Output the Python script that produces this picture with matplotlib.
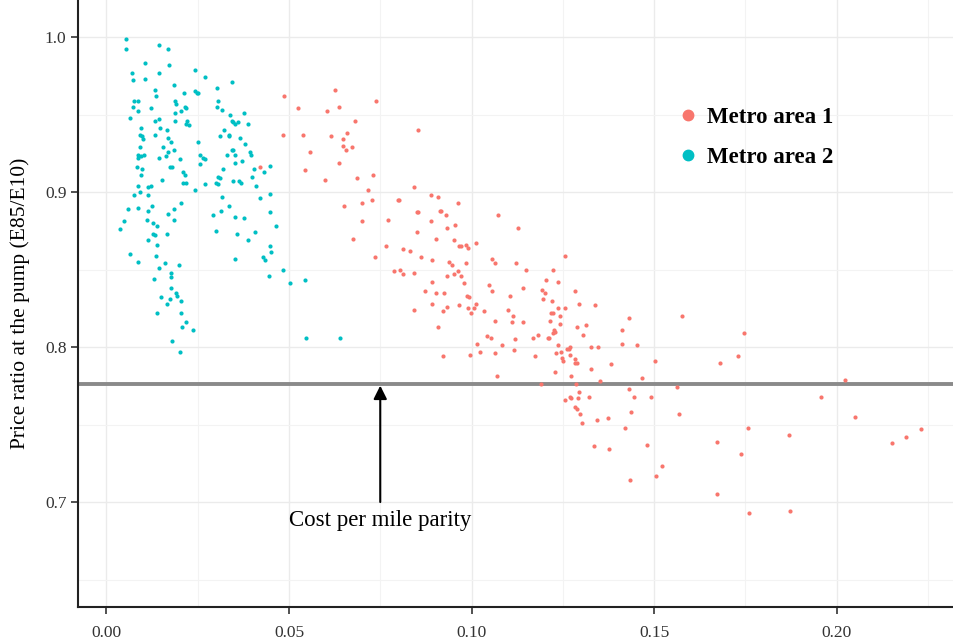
import matplotlib.pyplot as plt
from matplotlib.lines import Line2D
from matplotlib.ticker import MultipleLocator

# Metro area 2 (cyan cluster, low x)
area2_x = [0.0054, 0.0054, 0.0143, 0.0168, 0.0106, 0.0172, 0.0143, 0.0070, 0.0074, 0.0106,
           0.0242, 0.0269, 0.0343, 0.0185, 0.0134, 0.0136, 0.0212, 0.0243, 0.0248, 0.0252,
           0.0303, 0.0077, 0.0086, 0.0187, 0.0191, 0.0216, 0.0219, 0.0072, 0.0088, 0.0123,
           0.0205, 0.0187, 0.0307, 0.0302, 0.0316, 0.0376, 0.0339, 0.0066, 0.0132, 0.0145,
           0.0187, 0.0220, 0.0225, 0.0219, 0.0344, 0.0348, 0.0351, 0.0360, 0.0388, 0.0094,
           0.0147, 0.0166, 0.0091, 0.0097, 0.0100, 0.0134, 0.0168, 0.0177, 0.0321, 0.0312,
           0.0335, 0.0337, 0.0365, 0.0252, 0.0380, 0.0092, 0.0156, 0.0184, 0.0344, 0.0348,
           0.0330, 0.0353, 0.0394, 0.0397, 0.0088, 0.0095, 0.0104, 0.0086, 0.0145, 0.0170,
           0.0163, 0.0202, 0.0257, 0.0264, 0.0269, 0.0353, 0.0371, 0.0257, 0.0085, 0.0097,
           0.0173, 0.0179, 0.0319, 0.0403, 0.0209, 0.0214, 0.0094, 0.0305, 0.0310, 0.0399,
           0.0152, 0.0433, 0.0447, 0.0088, 0.0091, 0.0113, 0.0121, 0.0209, 0.0218, 0.0271,
           0.0300, 0.0305, 0.0348, 0.0362, 0.0368, 0.0411, 0.0077, 0.0115, 0.0243, 0.0316,
           0.0422, 0.0447,
           0.0060, 0.0086, 0.0124, 0.0113, 0.0205, 0.0185, 0.0170, 0.0186, 0.0292, 0.0314,
           0.0336, 0.0352, 0.0377, 0.0447, 0.0047, 0.0111, 0.0129, 0.0139, 0.0037, 0.0465,
           0.0300, 0.0358, 0.0407, 0.0166, 0.0127, 0.0132, 0.0115, 0.0139, 0.0389, 0.0449,
           0.0452, 0.0065, 0.0136, 0.0351, 0.0428, 0.0435, 0.0086, 0.0161, 0.0199, 0.0144,
           0.0485, 0.0177, 0.0177, 0.0130, 0.0444, 0.0504, 0.0177, 0.0190, 0.0193, 0.0150,
           0.0173, 0.0204, 0.0166, 0.0138, 0.0205, 0.0219, 0.0207, 0.0236, 0.0179, 0.0203,
           0.0545, 0.0548, 0.0640]
area2_y = [0.999, 0.992, 0.995, 0.992, 0.983, 0.982, 0.977, 0.977, 0.972, 0.973,
           0.979, 0.974, 0.971, 0.969, 0.966, 0.962, 0.964, 0.965, 0.964, 0.964,
           0.967, 0.959, 0.959, 0.959, 0.957, 0.955, 0.954, 0.955, 0.952, 0.954,
           0.952, 0.951, 0.959, 0.955, 0.953, 0.951, 0.950, 0.948, 0.946, 0.947,
           0.946, 0.946, 0.943, 0.944, 0.946, 0.945, 0.944, 0.945, 0.944, 0.941,
           0.941, 0.940, 0.937, 0.936, 0.934, 0.937, 0.935, 0.932, 0.940, 0.936,
           0.937, 0.936, 0.935, 0.932, 0.931, 0.929, 0.929, 0.927, 0.927, 0.927,
           0.924, 0.924, 0.926, 0.924, 0.924, 0.923, 0.924, 0.922, 0.922, 0.926,
           0.923, 0.921, 0.924, 0.922, 0.921, 0.919, 0.920, 0.918, 0.916, 0.915,
           0.916, 0.916, 0.915, 0.915, 0.913, 0.911, 0.911, 0.910, 0.909, 0.910,
           0.908, 0.913, 0.917, 0.904, 0.900, 0.903, 0.904, 0.906, 0.906, 0.905,
           0.906, 0.905, 0.907, 0.907, 0.906, 0.904, 0.898, 0.898, 0.901, 0.897,
           0.896, 0.899,
           0.889, 0.890, 0.891, 0.888, 0.893, 0.889, 0.886, 0.882, 0.885, 0.888,
           0.891, 0.884, 0.883, 0.887, 0.881, 0.882, 0.880, 0.878, 0.876, 0.878,
           0.875, 0.873, 0.874, 0.873, 0.873, 0.872, 0.869, 0.866, 0.869, 0.865,
           0.861, 0.860, 0.859, 0.857, 0.858, 0.856, 0.855, 0.854, 0.853, 0.851,
           0.850, 0.848, 0.845, 0.844, 0.846, 0.841, 0.838, 0.835, 0.833, 0.832,
           0.831, 0.830, 0.828, 0.822, 0.822, 0.816, 0.813, 0.811, 0.804, 0.797,
           0.843, 0.806, 0.806]

# Metro area 1 (red cluster, spread to the right)
area1_x = [0.0420,
           0.0487, 0.0525, 0.0625, 0.0737, 0.0603, 0.0636, 0.0681, 0.0484, 0.0539, 0.0614,
           0.0658, 0.0648, 0.0647, 0.0657, 0.0672, 0.0557, 0.0854, 0.0636, 0.0543, 0.0598,
           0.0686, 0.0730, 0.0717, 0.0651, 0.0699, 0.0728, 0.0798, 0.0701, 0.0772, 0.0676,
           0.0767, 0.0736, 0.0787,
           0.0842, 0.0801, 0.0890, 0.0908, 0.0851, 0.0854, 0.0913, 0.0915, 0.0964, 0.0930,
           0.0888, 0.0955, 0.1072, 0.0932, 0.0850, 0.1128, 0.0904, 0.0952, 0.0966, 0.0970,
           0.0984, 0.0991, 0.1011, 0.0812, 0.0831, 0.0862, 0.0893, 0.0938, 0.0946, 0.0984,
           0.1056, 0.1065, 0.1121, 0.0804, 0.0812, 0.0842, 0.0934, 0.0952, 0.0964, 0.0971,
           0.1150, 0.0891, 0.0980, 0.1049, 0.1203, 0.0872, 0.0904, 0.0924, 0.0987, 0.0993,
           0.1055, 0.1142, 0.1194, 0.1200, 0.1106, 0.1196, 0.0893, 0.0966, 0.1013, 0.0991,
           0.1007, 0.0999, 0.0842, 0.0922, 0.0932, 0.1033, 0.1101, 0.1113, 0.1064, 0.1110,
           0.1141, 0.0909, 0.1043, 0.1053, 0.1167, 0.1182, 0.1016, 0.1083, 0.1120, 0.1210,
           0.0922, 0.0997, 0.1022, 0.1064, 0.1117, 0.1173, 0.1070, 0.1191,
           0.1257, 0.1224, 0.1237, 0.1282, 0.1219, 0.1237, 0.1256, 0.1293, 0.1339, 0.1217,
           0.1224, 0.1215, 0.1243, 0.1243, 0.1288, 0.1313, 0.1226, 0.1228, 0.1224, 0.1213,
           0.1304, 0.1432, 0.1577, 0.1411, 0.1746, 0.1237, 0.1261, 0.1266, 0.1270, 0.1326,
           0.1346, 0.1411, 0.1453, 0.1231, 0.1246, 0.1270, 0.1249, 0.1251, 0.1282, 0.1282,
           0.1289, 0.1327, 0.1382, 0.1503, 0.1681, 0.1729, 0.1228, 0.1272, 0.1353, 0.1467,
           0.1286, 0.1432, 0.1563, 0.2022, 0.1255, 0.1269, 0.1273, 0.1293, 0.1292, 0.1321,
           0.1444, 0.1490, 0.1958, 0.1283, 0.1288, 0.1298, 0.1437, 0.1567, 0.1302, 0.1343,
           0.1374, 0.1420, 0.1757, 0.1869, 0.1673, 0.1737, 0.1335, 0.1377, 0.1481, 0.1522,
           0.1434, 0.1504, 0.1673, 0.1761, 0.1871,
           0.2050, 0.2150, 0.2190, 0.2230]
area1_y = [0.916,
           0.962, 0.954, 0.966, 0.959, 0.952, 0.955, 0.946, 0.937, 0.937, 0.936,
           0.938, 0.934, 0.930, 0.927, 0.929, 0.926, 0.940, 0.919, 0.914, 0.908,
           0.909, 0.911, 0.901, 0.891, 0.893, 0.895, 0.895, 0.881, 0.882, 0.870,
           0.865, 0.858, 0.849,
           0.903, 0.895, 0.898, 0.897, 0.887, 0.887, 0.888, 0.888, 0.893, 0.885,
           0.881, 0.879, 0.885, 0.877, 0.874, 0.877, 0.870, 0.869, 0.865, 0.865,
           0.866, 0.864, 0.867, 0.863, 0.862, 0.858, 0.856, 0.855, 0.853, 0.854,
           0.857, 0.854, 0.854, 0.850, 0.847, 0.848, 0.846, 0.847, 0.849, 0.846,
           0.850, 0.842, 0.841, 0.840, 0.843, 0.836, 0.835, 0.835, 0.833, 0.832,
           0.836, 0.838, 0.837, 0.835, 0.833, 0.831, 0.828, 0.827, 0.828, 0.825,
           0.825, 0.822, 0.824, 0.823, 0.826, 0.823, 0.824, 0.820, 0.817, 0.816,
           0.816, 0.813, 0.807, 0.806, 0.806, 0.808, 0.802, 0.801, 0.805, 0.806,
           0.794, 0.795, 0.797, 0.796, 0.798, 0.794, 0.781, 0.776,
           0.859, 0.850, 0.842, 0.836, 0.830, 0.825, 0.825, 0.828, 0.827, 0.822,
           0.822, 0.817, 0.820, 0.815, 0.813, 0.814, 0.811, 0.810, 0.809, 0.806,
           0.808, 0.819, 0.820, 0.811, 0.809, 0.801, 0.799, 0.799, 0.800, 0.800,
           0.800, 0.802, 0.801, 0.796, 0.797, 0.795, 0.793, 0.791, 0.792, 0.790,
           0.790, 0.786, 0.789, 0.791, 0.790, 0.794, 0.784, 0.781, 0.778, 0.780,
           0.776, 0.773, 0.774, 0.779, 0.766, 0.768, 0.767, 0.771, 0.767, 0.768,
           0.768, 0.768, 0.768, 0.761, 0.760, 0.757, 0.758, 0.757, 0.751, 0.753,
           0.754, 0.748, 0.748, 0.743, 0.739, 0.731, 0.736, 0.734, 0.737, 0.723,
           0.714, 0.717, 0.705, 0.693, 0.694,
           0.755, 0.738, 0.742, 0.747]

parity = 0.776
arrow_x = 0.075
x_ticks = [0.00, 0.05, 0.10, 0.15, 0.20]
y_ticks = [0.7, 0.8, 0.9, 1.0]

red = "#F8766D"
cyan = "#00BFC4"
serif = "Liberation Serif"

fig = plt.figure(figsize=(9.54, 6.44), dpi=100)
ax = fig.add_axes([0.082, 0.0575, 0.918, 0.9425])

ax.scatter(area1_x, area1_y, s=9, c=red, linewidths=0, zorder=3)
ax.scatter(area2_x, area2_y, s=9, c=cyan, linewidths=0, zorder=3)

ax.axhline(parity, color="#8a8a8a", lw=2.8, zorder=2)
ax.annotate("", xy=(arrow_x, parity), xytext=(arrow_x, 0.700),
            arrowprops=dict(arrowstyle="-|>", color="black", lw=1.5,
                            mutation_scale=20, shrinkA=0, shrinkB=1))
ax.text(arrow_x, 0.688, "Cost per mile parity", ha="center", va="center",
        fontsize=16.5, family=serif)

ax.set_xlim(-0.0077, 0.2321)
ax.set_ylim(0.6323, 1.0239)
ax.set_xticks(x_ticks)
ax.set_xticklabels(["%.2f" % v for v in x_ticks])
ax.set_yticks(y_ticks)
ax.set_yticklabels(["%.1f" % v for v in y_ticks])
ax.xaxis.set_minor_locator(MultipleLocator(0.025))
ax.yaxis.set_minor_locator(MultipleLocator(0.05))
ax.grid(which="major", color="#ebebeb", lw=1.0)
ax.grid(which="minor", color="#f3f3f3", lw=0.8)
ax.set_axisbelow(True)
ax.tick_params(which="minor", length=0)
ax.tick_params(axis="x", which="major", pad=8)
ax.tick_params(which="major", length=5, width=1.2, color="#333333",
               labelsize=12.5, labelcolor="#333333")
for lab in ax.get_xticklabels() + ax.get_yticklabels():
    lab.set_family(serif)
for side in ["top", "right"]:
    ax.spines[side].set_visible(False)
for side in ["left", "bottom"]:
    ax.spines[side].set_linewidth(1.5)
    ax.spines[side].set_color("#222222")

ax.set_ylabel("Price ratio at the pump (E85/E10)", family=serif, fontsize=15.5)
ax.yaxis.set_label_coords(-0.055, 0.5)

handles = [Line2D([], [], marker="o", ls="", color=red, markersize=7.5),
           Line2D([], [], marker="o", ls="", color=cyan, markersize=7.5)]
ax.legend(handles, ["Metro area 1", "Metro area 2"], loc="upper left",
          bbox_to_anchor=(0.66, 0.857), frameon=False, handlelength=1.0,
          handletextpad=0.3, labelspacing=0.8,
          prop={"family": serif, "weight": "bold", "size": 16.5})

plt.savefig("out.png", dpi=100)
